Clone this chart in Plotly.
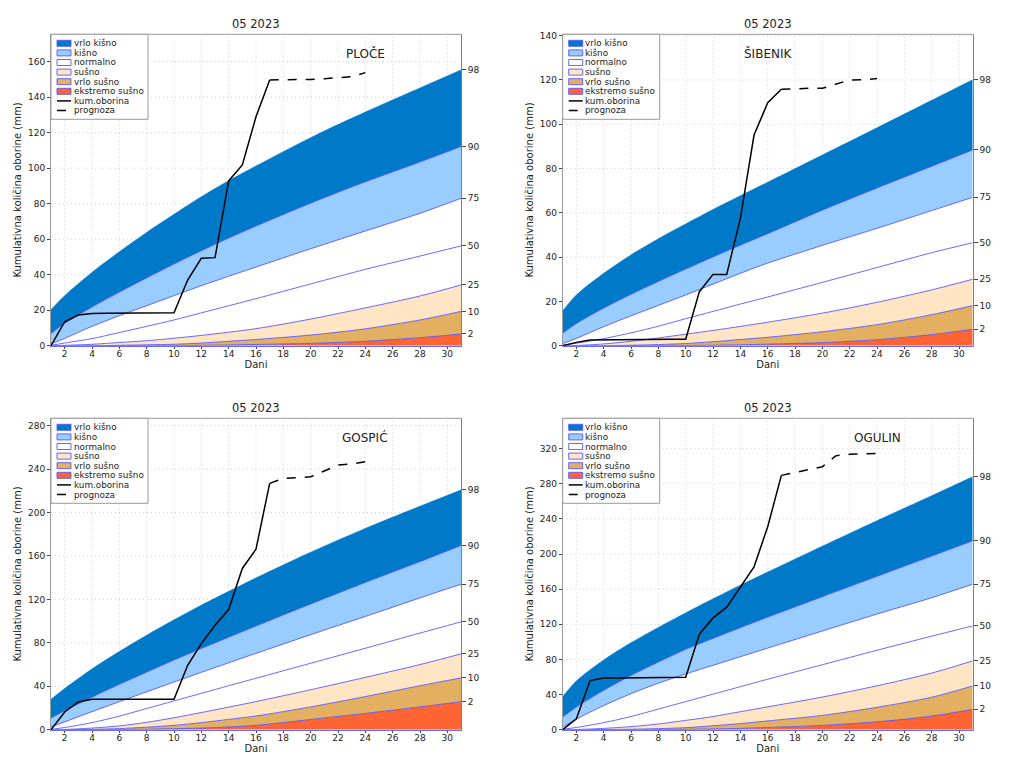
import plotly.graph_objects as go

# dani u mjesecu na kojima su očitane krivulje percentila
dani = [1, 2, 4, 6, 8, 10, 12, 14, 16, 20, 24, 28, 31]
dani_obs = list(range(1, 18))
dani_prog = list(range(17, 25))
percentili = ['2', '10', '25', '50', '75', '90', '98']

# PLOČE
ploce_p2 = [0, 0, 0, 0, 0, 0, 0.2, 0.4, 0.7, 1.3, 2.5, 4.5, 6.6]
ploce_p10 = [0, 0, 0, 0.2, 0.5, 0.8, 1.5, 2.5, 3.5, 6, 9.5, 14.5, 19.3]
ploce_p25 = [0, 0.2, 0.8, 1.8, 2.8, 4.2, 5.8, 7.6, 9.6, 15, 21.3, 28, 34.2]
ploce_p50 = [0.2, 1.5, 4, 7.4, 10.9, 14.5, 18.5, 22.5, 26.5, 34.8, 43, 50.5, 56.2]
ploce_p75 = [1, 4.1, 10.9, 16.9, 22.5, 28.2, 33.8, 39.1, 44.3, 54.6, 64.6, 74.6, 83]
ploce_p90 = [6.9, 12.6, 21.8, 30.2, 38.2, 46, 53.5, 60.6, 67.4, 80.3, 92.3, 103.5, 112.2]
ploce_p98 = [20.3, 28.2, 41.3, 52.9, 63.8, 74, 83.9, 92.9, 101.2, 117.2, 131.6, 145.2, 155.3]
ploce_obs = [0, 13.5, 17.3, 18.2, 18.3, 18.3, 18.4, 18.5, 18.5, 18.6, 37, 49.2, 49.6, 92.8, 101.8, 129, 149.7]
ploce_prog = [149.7, 149.7, 149.8, 150, 150.4, 150.8, 151.5, 153.8]

# ŠIBENIK
sibenik_p2 = [0, 0, 0, 0, 0, 0.1, 0.2, 0.4, 0.7, 1.4, 2.7, 5, 7.4]
sibenik_p10 = [0, 0, 0, 0.2, 0.5, 1, 1.8, 2.8, 3.8, 6.3, 9.5, 14, 18.1]
sibenik_p25 = [0, 0.1, 0.8, 2, 3.5, 5.2, 6.9, 8.7, 10.6, 14.7, 19.6, 25.2, 30]
sibenik_p50 = [0.3, 1.1, 3.2, 5.8, 8.8, 12.2, 15.5, 18.8, 22, 28.6, 35.3, 42, 46.5]
sibenik_p75 = [1, 3.3, 8.6, 13.5, 18.2, 22.9, 27.8, 32.7, 37.3, 45.3, 53, 61, 67]
sibenik_p90 = [5.6, 10, 17, 23.2, 29, 34.6, 40.1, 45.4, 50.6, 61.2, 71.2, 81, 88.4]
sibenik_p98 = [15.7, 22.9, 32.7, 41, 48.3, 55, 61.5, 67.7, 73.8, 86.1, 98.4, 110.8, 120.1]
sibenik_obs = [0, 1.5, 2.6, 2.7, 2.7, 2.8, 2.8, 2.9, 2.9, 2.9, 24.4, 32.2, 32.2, 57.5, 95.1, 109.7, 115.8]
sibenik_prog = [115.8, 116.1, 116.2, 116.2, 118.2, 120, 120.1, 120.6]

# GOSPIĆ
gospic_p2 = [0, 0, 0, 0.1, 0.4, 0.9, 1.5, 2.5, 4, 9.4, 15, 21, 25.8]
gospic_p10 = [0, 0, 0.3, 1, 2.3, 4, 6.5, 9.5, 12.6, 21, 30.5, 40.5, 47.7]
gospic_p25 = [0, 0.2, 1.5, 3.5, 6.8, 11, 15.8, 20.8, 25.9, 36.8, 48.2, 60, 69.8]
gospic_p50 = [0.3, 2, 6.5, 12.5, 19.5, 26.5, 33.5, 40.5, 47.4, 61.2, 75, 89, 99.3]
gospic_p75 = [2.5, 7.2, 16.6, 25.8, 34.9, 43.9, 52.8, 61.6, 70.3, 87.5, 104.3, 121.4, 134]
gospic_p90 = [10.8, 17.5, 30, 41.8, 53, 64.2, 74.8, 85.2, 95.5, 115.8, 135.6, 154.8, 169.7]
gospic_p98 = [28, 38, 56, 72, 87, 101.2, 114.6, 127.4, 139.8, 163.4, 185.4, 205.8, 220.8]
gospic_obs = [0, 16.3, 25.5, 28, 28, 28, 28, 28, 28, 28, 59.3, 79.3, 96.2, 110.7, 148.5, 166.3, 226.9]
gospic_prog = [226.9, 231.5, 232.1, 233, 238.3, 243.8, 244.7, 246.9]

# OGULIN
ogulin_p2 = [0, 0, 0, 0, 0.1, 0.4, 0.8, 1.5, 2.5, 4.9, 9, 15.5, 23.2]
ogulin_p10 = [0, 0, 0.2, 0.5, 1.2, 2.3, 4.5, 7, 10, 16.3, 25.5, 37, 49.8]
ogulin_p25 = [0, 0.2, 1.5, 3.5, 6.5, 10.6, 15, 20.5, 26, 37.2, 50, 64.5, 78.3]
ogulin_p50 = [0.5, 2.5, 8, 15, 23.5, 32, 40.5, 49, 57.5, 74, 90.5, 106.5, 118.2]
ogulin_p75 = [3, 12, 27.5, 41, 53, 63.5, 73.3, 83.1, 92.9, 112.4, 131.7, 150.3, 165.7]
ogulin_p90 = [14.4, 25.8, 44.8, 61.8, 77, 91.5, 104, 116.2, 128.2, 151.5, 174.6, 197.7, 215.1]
ogulin_p98 = [37.5, 55.5, 79.5, 99, 116.5, 133, 149, 164.5, 179.5, 209, 238, 266.5, 288.1]
ogulin_obs = [0, 12.5, 55.9, 58.9, 59, 59.1, 59.2, 59.4, 59.5, 59.7, 108.7, 127.3, 139.5, 162.7, 185.5, 231.1, 289.6]
ogulin_prog = [289.6, 293, 295.7, 299.5, 312, 313.6, 314, 314.7]

postaje = [
    ('PLOČE', [ploce_p2, ploce_p10, ploce_p25, ploce_p50, ploce_p75, ploce_p90, ploce_p98], ploce_obs, ploce_prog),
    ('ŠIBENIK', [sibenik_p2, sibenik_p10, sibenik_p25, sibenik_p50, sibenik_p75, sibenik_p90, sibenik_p98], sibenik_obs, sibenik_prog),
    ('GOSPIĆ', [gospic_p2, gospic_p10, gospic_p25, gospic_p50, gospic_p75, gospic_p90, gospic_p98], gospic_obs, gospic_prog),
    ('OGULIN', [ogulin_p2, ogulin_p10, ogulin_p25, ogulin_p50, ogulin_p75, ogulin_p90, ogulin_p98], ogulin_obs, ogulin_prog),
]
y_max = [175.4, 140.6, 286.8, 354.6]
y_korak = [20, 20, 40, 40]
x_ticks = list(range(2, 31, 2))

boje = ['#FF6433', '#E3B062', '#FFE5C4', 'white', 'white', '#99CCFF', '#0079C9']
legenda = [('vrlo kišno', '#0079C9'), ('kišno', '#99CCFF'), ('normalno', 'white'),
           ('sušno', '#FFE5C4'), ('vrlo sušno', '#E3B062'), ('ekstremo sušno', '#FF6433')]
rub = 'rgba(80,80,255,0.85)'
mreza = '#cfcfcf'
font = 'DejaVu Sans, Verdana, sans-serif'

# stranica ima marginu od 8 px, pa je slika za toliko manja
W, H = 1016, 760
lijevo = [43, 554.7, 43, 554.7]
gore = [26.3, 26.3, 410.3, 410.3]
sirina, visina = 410, 311.4

fig = go.Figure()
layout = dict(width=W, height=H, margin=dict(l=0, r=0, t=0, b=0),
              paper_bgcolor='white', plot_bgcolor='white', showlegend=False,
              font=dict(family=font, size=9, color='#222'))
shapes, annotations = [], []

for k, (ime, krivulje, obs, prog) in enumerate(postaje):
    n = k + 1
    xa = 'x' if n == 1 else f'x{n}'
    ya = 'y' if n == 1 else f'y{n}'
    ya2 = f'y{n + 4}'
    # pojasevi percentila
    for i, (p, boja) in enumerate(zip(krivulje, boje)):
        fig.add_trace(go.Scatter(
            x=dani, y=p, xaxis=xa, yaxis=ya, mode='lines',
            fill='tozeroy' if i == 0 else 'tonexty', fillcolor=boja,
            line=dict(color='#0079C9' if i == 6 else rub, width=0.6 if i == 6 else 1,
                      shape='spline', smoothing=0.8),
            hoverinfo='skip'))
    fig.add_trace(go.Scatter(x=dani_obs, y=obs, xaxis=xa, yaxis=ya, mode='lines',
                             line=dict(color='black', width=1.5), name='kum.oborina'))
    fig.add_trace(go.Scatter(x=dani_prog, y=prog, xaxis=xa, yaxis=ya2, mode='lines',
                             line=dict(color='black', width=1.5, dash='dash'), name='prognoza'))

    x0 = lijevo[k] / W
    y1 = 1 - gore[k] / H
    y0 = 1 - (gore[k] + visina) / H
    layout['xaxis' if n == 1 else f'xaxis{n}'] = dict(
        domain=[x0, x0 + sirina / W], anchor=ya, range=[1, 31], tickvals=x_ticks,
        showline=True, linecolor=rub, linewidth=1, ticks='outside', ticklen=2, tickcolor='#444',
        ticklabelstandoff=-3, showgrid=False, zeroline=False,
        title=dict(text='Dani', font=dict(size=10), standoff=0), automargin=False)
    layout['yaxis' if n == 1 else f'yaxis{n}'] = dict(
        domain=[y0, y1], anchor=xa, range=[0, y_max[k]], dtick=y_korak[k],
        showline=True, linecolor='#999', ticks='outside', ticklen=3, tickcolor='#444',
        showgrid=False, zeroline=False,
        title=dict(text='Kumulativna količina oborine (mm)', font=dict(size=10), standoff=4),
        automargin=False)
    layout[f'yaxis{n + 4}'] = dict(
        overlaying=ya, side='right', anchor=xa, matches=ya, range=[0, y_max[k]],
        tickvals=[p[-1] for p in krivulje], ticktext=percentili,
        showline=True, linecolor='rgba(110,100,220,0.9)', ticks='outside', ticklen=4,
        tickcolor='#444', showgrid=False, zeroline=False, automargin=False)

    # točkasta mreža ispod pojaseva
    for xv in x_ticks:
        shapes.append(dict(type='line', xref=xa, yref=ya, x0=xv, x1=xv, y0=0, y1=y_max[k],
                           layer='below', line=dict(color=mreza, width=1, dash='1px,3px')))
    for yv in range(y_korak[k], int(y_max[k]) + 1, y_korak[k]):
        shapes.append(dict(type='line', xref=xa, yref=ya, x0=1, x1=31, y0=yv, y1=yv,
                           layer='below', line=dict(color=mreza, width=1, dash='1px,3px')))

    xd = f'{xa} domain'
    yd = f'{ya} domain'
    # gornji rub okvira
    shapes.append(dict(type='line', xref=xd, yref=yd, x0=0, x1=1, y0=1, y1=1,
                       line=dict(color='#999', width=1)))
    annotations.append(dict(xref=xd, yref=yd, x=0.5, y=1 + 10.3 / visina, text='05 2023',
                            xanchor='center', yanchor='middle', showarrow=False,
                            font=dict(size=11.5)))
    annotations.append(dict(xref=xd, yref=yd, x=0.5 if n == 2 else 0.767, y=1 - 19.7 / visina,
                            text=ime, xanchor='center', yanchor='middle', showarrow=False,
                            font=dict(size=12)))

    # legenda
    sx = lambda px: px / sirina
    sy = lambda px: 1 - px / visina
    shapes.append(dict(type='rect', xref=xd, yref=yd, x0=0, x1=sx(97), y0=sy(85), y1=1,
                       fillcolor='white', line=dict(color='#999', width=1)))
    stavke = legenda + [('kum.oborina', 'solid'), ('prognoza', 'dash')]
    for i, (tekst, stil) in enumerate(stavke):
        cy = 9 + 9.6 * i
        if i < len(legenda):
            shapes.append(dict(type='rect', xref=xd, yref=yd, x0=sx(6), x1=sx(20),
                               y0=sy(cy + 3), y1=sy(cy - 3), fillcolor=stil,
                               line=dict(color=rub, width=1)))
        else:
            shapes.append(dict(type='line', xref=xd, yref=yd, x0=sx(6), x1=sx(20),
                               y0=sy(cy), y1=sy(cy), line=dict(color='black', width=1.5, dash=stil)))
        annotations.append(dict(xref=xd, yref=yd, x=sx(20.5), y=sy(cy), text=tekst,
                                xanchor='left', yanchor='middle', showarrow=False,
                                font=dict(size=8.8)))

layout['shapes'] = shapes
layout['annotations'] = annotations
fig.update_layout(**layout)
fig.write_html('out.html')
